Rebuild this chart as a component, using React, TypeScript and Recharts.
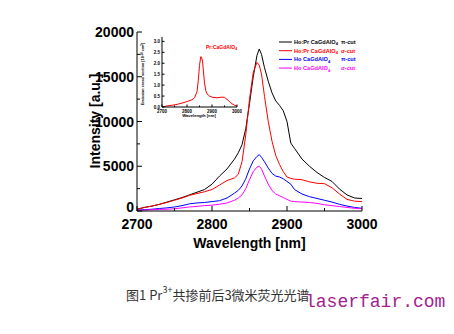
import React from 'react';
import { LineChart, Line, XAxis, YAxis, Legend } from 'recharts';

// ---- main spectra (Intensity [a.u.] vs wavelength [nm]) ----
const wavelengths = [2700, 2710, 2720, 2730, 2740, 2750, 2760, 2770, 2780, 2790, 2800, 2810, 2820, 2830, 2835, 2840, 2845, 2850, 2855, 2860, 2863, 2866, 2870, 2875, 2880, 2885, 2890, 2895, 2900, 2905, 2910, 2920, 2930, 2940, 2950, 2960, 2970, 2980, 2990, 3000];
const hoPrPi = [200, 400, 550, 750, 1000, 1250, 1500, 1800, 2100, 2400, 3000, 3900, 4700, 5800, 6500, 7400, 9200, 12000, 15000, 17400, 18100, 17500, 16000, 14500, 13200, 12300, 11800, 11200, 10000, 7600, 7000, 5800, 5000, 4300, 3750, 3300, 2450, 1800, 1450, 1400];
const hoPrSigma = [200, 400, 550, 750, 950, 1200, 1450, 1750, 1950, 2150, 2400, 2900, 3400, 3700, 4100, 5500, 8500, 12500, 15500, 16600, 16300, 15300, 12800, 10000, 7800, 6200, 5200, 4400, 3800, 3650, 3550, 3500, 3250, 3100, 3050, 2600, 1900, 1300, 1100, 1050];
const hoPi = [100, 150, 200, 280, 350, 450, 600, 800, 900, 950, 1050, 1150, 1450, 2000, 2300, 2800, 3600, 4700, 5600, 6100, 6300, 6000, 5500, 4800, 4200, 3900, 3800, 3600, 3300, 3000, 2400, 1900, 1600, 1400, 1200, 1000, 750, 550, 400, 300];
const hoSigma = [50, 100, 150, 180, 200, 250, 350, 450, 520, 600, 650, 750, 900, 1200, 1450, 1800, 2500, 3500, 4400, 4900, 5000, 4700, 3900, 3000, 2300, 1900, 1700, 1500, 1300, 1100, 1050, 1000, 950, 850, 700, 600, 500, 400, 300, 250];

// ---- inset: emission cross section ----
const insetWavelengths = [2700, 2720, 2740, 2760, 2780, 2800, 2820, 2830, 2840, 2845, 2850, 2855, 2858, 2862, 2866, 2870, 2875, 2880, 2890, 2900, 2920, 2940, 2950, 2960, 2970, 2980, 2990, 3000];
const insetCrossSection = [0.0, 0.05, 0.08, 0.12, 0.18, 0.25, 0.33, 0.42, 0.7, 1.2, 1.9, 2.3, 2.28, 2.1, 1.6, 1.1, 0.75, 0.6, 0.5, 0.45, 0.42, 0.45, 0.44, 0.35, 0.25, 0.15, 0.08, 0.05];

const xTicks = [2700, 2750, 2800, 2850, 2900, 2950, 3000];
const yTicks = [0, 2500, 5000, 7500, 10000, 12500, 15000, 17500, 20000];
const insetXTicks = [2700, 2750, 2800, 2850, 2900, 2950, 3000];
const insetYTicks = [0, 0.5, 1, 1.5, 2, 2.5, 3];

const legendNames = ['Ho:Pr CaGdAlO', 'Ho:Pr CaGdAlO', 'Ho CaGdAlO', 'Ho CaGdAlO'];
const legendCuts = ['π-cut', 'σ-cut', 'π-cut', 'σ-cut'];
const seriesKeys = ['a', 'b', 'c', 'd'];
const seriesColors = ['#000000', '#ff0000', '#0000ff', '#ff00ff'];
const legendTextColors = ['#000000', '#ff0000', '#0000ff', '#ff00ff'];

const mainData = wavelengths.map((w, i) => ({ w, a: hoPrPi[i], b: hoPrSigma[i], c: hoPi[i], d: hoSigma[i] }));
const insetData = insetWavelengths.map((w, i) => ({ w, v: insetCrossSection[i] }));

const FONT = '"Liberation Sans", Arial, sans-serif';

type TickOpts = { dir: number; major: number; minor: number; isMajor: (v: number) => boolean; label?: (v: number) => string; fontSize?: number; gap?: number; shift?: (v: number) => number };

const makeXTick = (o: TickOpts) => (props: any) => {
  const { x, y, payload } = props;
  const v = payload.value;
  const maj = o.isMajor(v);
  const len = maj ? o.major : o.minor;
  return (
    <g>
      <line x1={x} x2={x} y1={y} y2={y + o.dir * len} stroke="#000" strokeWidth={1} />
      {o.label && maj ? (
        <text x={x} y={y + (o.gap || 0)} textAnchor="middle" fontFamily={FONT} fontWeight="bold" fontSize={o.fontSize} fill="#000">
          {o.label(v)}
        </text>
      ) : null}
    </g>
  );
};

const makeYTick = (o: TickOpts) => (props: any) => {
  const { x, y, payload } = props;
  const v = payload.value;
  const maj = o.isMajor(v);
  const len = maj ? o.major : o.minor;
  const sh = o.shift ? o.shift(v) : 0;
  return (
    <g>
      <line x1={x} x2={x + o.dir * len} y1={y} y2={y} stroke="#000" strokeWidth={1} />
      {o.label && maj ? (
        <text x={x - (o.gap || 0)} y={y + sh} dy="0.36em" textAnchor="end" fontFamily={FONT} fontWeight="bold" fontSize={o.fontSize} fill="#000">
          {o.label(v)}
        </text>
      ) : null}
    </g>
  );
};

const mainBottomTick = makeXTick({ dir: -1, major: 5, minor: 3, isMajor: (v) => v % 100 === 0, label: (v) => String(v), fontSize: 14, gap: 17.5 });
const mainTopTick = makeXTick({ dir: 1, major: 5, minor: 3, isMajor: (v) => v % 100 === 0 });
const mainLeftTick = makeYTick({ dir: 1, major: 5, minor: 3, isMajor: (v) => v % 5000 === 0, label: (v) => String(v), fontSize: 14, gap: 3, shift: (v) => (v === 0 ? -4 : 0) });
const mainRightTick = makeYTick({ dir: -1, major: 5, minor: 3, isMajor: (v) => v % 5000 === 0 });

const insetBottomTick = makeXTick({ dir: -1, major: 2.5, minor: 1.5, isMajor: (v) => v % 100 === 0, label: (v) => String(v), fontSize: 4.5, gap: 5.5 });
const insetTopTick = makeXTick({ dir: 1, major: 2.5, minor: 1.5, isMajor: (v) => v % 100 === 0 });
const insetLeftTick = makeYTick({ dir: 1, major: 2.5, minor: 1.5, isMajor: () => true, label: (v) => v.toFixed(1), fontSize: 4.5, gap: 2 });
const insetRightTick = makeYTick({ dir: -1, major: 2.5, minor: 1.5, isMajor: () => true });

const MainLegend = () => (
  <svg width={92} height={38} style={{ display: 'block' }}>
    {legendNames.map((n, i) => {
      const cy = 5 + i * 8.7;
      return (
        <g key={i}>
          <line x1={2} x2={15} y1={cy} y2={cy} stroke={seriesColors[i]} strokeWidth={1} />
          <text x={17} y={cy} dy="0.35em" fontFamily={FONT} fontWeight="bold" fontSize={5.6} fill={legendTextColors[i]}>
            {n}
            <tspan dy={1.5} fontSize={4}>4</tspan>
          </text>
          <text x={64} y={cy} dy="0.35em" fontFamily={FONT} fontWeight="bold" fontSize={5.6} fill={legendTextColors[i]}>
            {legendCuts[i]}
          </text>
        </g>
      );
    })}
  </svg>
);

const InsetLegend = () => (
  <svg width={34} height={10} style={{ display: 'block' }}>
    <text x={0} y={6} fontFamily={FONT} fontWeight="bold" fontSize={5} fill="#ff0000">
      Pr:CaGdAlO<tspan dy={1.2} fontSize={3.6}>4</tspan>
    </text>
  </svg>
);

export default function App() {
  return (
    <div style={{ position: 'absolute', left: 0, top: 0, width: 454, height: 334, background: '#fff', overflow: 'hidden' }}>
      <div style={{ position: 'absolute', left: 0, top: 0 }}>
        <LineChart width={454} height={334} data={mainData} margin={{ top: 32, right: 92, left: 87, bottom: 93 }}>
          <XAxis
            xAxisId="b"
            dataKey="w"
            type="number"
            domain={[2700, 3000]}
            ticks={xTicks}
            interval={0}
            allowDataOverflow
            height={30}
            tickSize={0}
            tickMargin={0}
            tickLine={false}
            axisLine={{ stroke: '#000', strokeWidth: 1 }}
            tick={mainBottomTick}
            label={() => (
              <text x={249.5} y={248} textAnchor="middle" fontFamily={FONT} fontWeight="bold" fontSize={14} fill="#000">
                Wavelength [nm]
              </text>
            )}
          />
          <XAxis
            xAxisId="t"
            orientation="top"
            type="number"
            domain={[2700, 3000]}
            ticks={xTicks}
            interval={0}
            allowDataOverflow
            height={0}
            tickSize={0}
            tickMargin={0}
            tickLine={false}
            axisLine={{ stroke: '#000', strokeWidth: 1 }}
            tick={mainTopTick}
          />
          <YAxis
            yAxisId="l"
            type="number"
            domain={[0, 20000]}
            ticks={yTicks}
            interval={0}
            allowDataOverflow
            width={50}
            tickSize={0}
            tickMargin={0}
            tickLine={false}
            axisLine={{ stroke: '#000', strokeWidth: 1 }}
            tick={mainLeftTick}
            label={() => (
              <text x={95} y={121} transform="rotate(-90, 95, 121)" textAnchor="middle" dominantBaseline="central" fontFamily={FONT} fontWeight="bold" fontSize={14} fill="#000">
                Intensity [a.u.]
              </text>
            )}
          />
          <YAxis
            yAxisId="r"
            orientation="right"
            type="number"
            domain={[0, 20000]}
            ticks={yTicks}
            interval={0}
            allowDataOverflow
            width={0}
            tickSize={0}
            tickMargin={0}
            tickLine={false}
            axisLine={{ stroke: '#000', strokeWidth: 1 }}
            tick={mainRightTick}
          />
          {seriesKeys.map((k, i) => (
            <Line
              key={k}
              xAxisId="b"
              yAxisId="l"
              dataKey={k}
              type="linear"
              stroke={seriesColors[i]}
              strokeWidth={1}
              dot={false}
              isAnimationActive={false}
            />
          ))}
          <Legend
            layout="horizontal"
            verticalAlign="middle"
            align="center"
            wrapperStyle={{ left: 277, top: 37, width: 92, height: 38 }}
            content={() => <MainLegend />}
          />
        </LineChart>
      </div>

      <div style={{ position: 'absolute', left: 132, top: 32 }}>
        <LineChart width={110} height={91} data={insetData} margin={{ top: 5, right: 5, left: 0, bottom: 0 }}>
          <XAxis
            xAxisId="b"
            dataKey="w"
            type="number"
            domain={[2700, 3000]}
            ticks={insetXTicks}
            interval={0}
            allowDataOverflow
            height={16}
            tickSize={0}
            tickMargin={0}
            tickLine={false}
            axisLine={{ stroke: '#000', strokeWidth: 1 }}
            tick={insetBottomTick}
            label={() => (
              <text x={67} y={85} textAnchor="middle" fontFamily={FONT} fontWeight="bold" fontSize={4.2} fill="#000">
                Wavelength [nm]
              </text>
            )}
          />
          <XAxis
            xAxisId="t"
            orientation="top"
            type="number"
            domain={[2700, 3000]}
            ticks={insetXTicks}
            interval={0}
            allowDataOverflow
            height={0}
            tickSize={0}
            tickMargin={0}
            tickLine={false}
            axisLine={{ stroke: '#000', strokeWidth: 1 }}
            tick={insetTopTick}
          />
          <YAxis
            yAxisId="l"
            type="number"
            domain={[0, 3.2]}
            ticks={insetYTicks}
            interval={0}
            allowDataOverflow
            width={30}
            tickSize={0}
            tickMargin={0}
            tickLine={false}
            axisLine={{ stroke: '#000', strokeWidth: 1 }}
            tick={insetLeftTick}
            label={() => (
              <text x={11} y={42} transform="rotate(-90, 11, 42)" textAnchor="middle" dominantBaseline="central" fontFamily={FONT} fontWeight="bold" fontSize={3.8} fill="#000">
                Emission cross section [10<tspan dy={-1.2} fontSize={2.8}>-20</tspan><tspan dy={1.2}> cm</tspan><tspan dy={-1.2} fontSize={2.8}>2</tspan><tspan dy={1.2}>]</tspan>
              </text>
            )}
          />
          <YAxis
            yAxisId="r"
            orientation="right"
            type="number"
            domain={[0, 3.2]}
            ticks={insetYTicks}
            interval={0}
            allowDataOverflow
            width={0}
            tickSize={0}
            tickMargin={0}
            tickLine={false}
            axisLine={{ stroke: '#000', strokeWidth: 1 }}
            tick={insetRightTick}
          />
          <Line
            xAxisId="b"
            yAxisId="l"
            dataKey="v"
            type="linear"
            stroke="#ff0000"
            strokeWidth={1}
            dot={false}
            isAnimationActive={false}
          />
          <Legend
            layout="horizontal"
            verticalAlign="middle"
            align="center"
            wrapperStyle={{ left: 74, top: 11, width: 34, height: 10 }}
            content={() => <InsetLegend />}
          />
        </LineChart>
      </div>

      <div style={{ position: 'absolute', left: 126, top: 286, fontFamily: '"Noto Sans CJK SC", sans-serif', fontSize: 13, lineHeight: '18px', color: '#333', whiteSpace: 'nowrap' }}>
        图1 Pr<sup style={{ fontSize: 9, verticalAlign: 'top', lineHeight: '10px', position: 'relative', top: -1 }}>3+</sup>共掺前后3微米荧光光谱
      </div>
      <div style={{ position: 'absolute', left: 305, top: 292, fontFamily: '"Liberation Mono", monospace', fontSize: 18, lineHeight: '20px', color: '#a3218e', whiteSpace: 'nowrap' }}>
        laserfair.com
      </div>
    </div>
  );
}
